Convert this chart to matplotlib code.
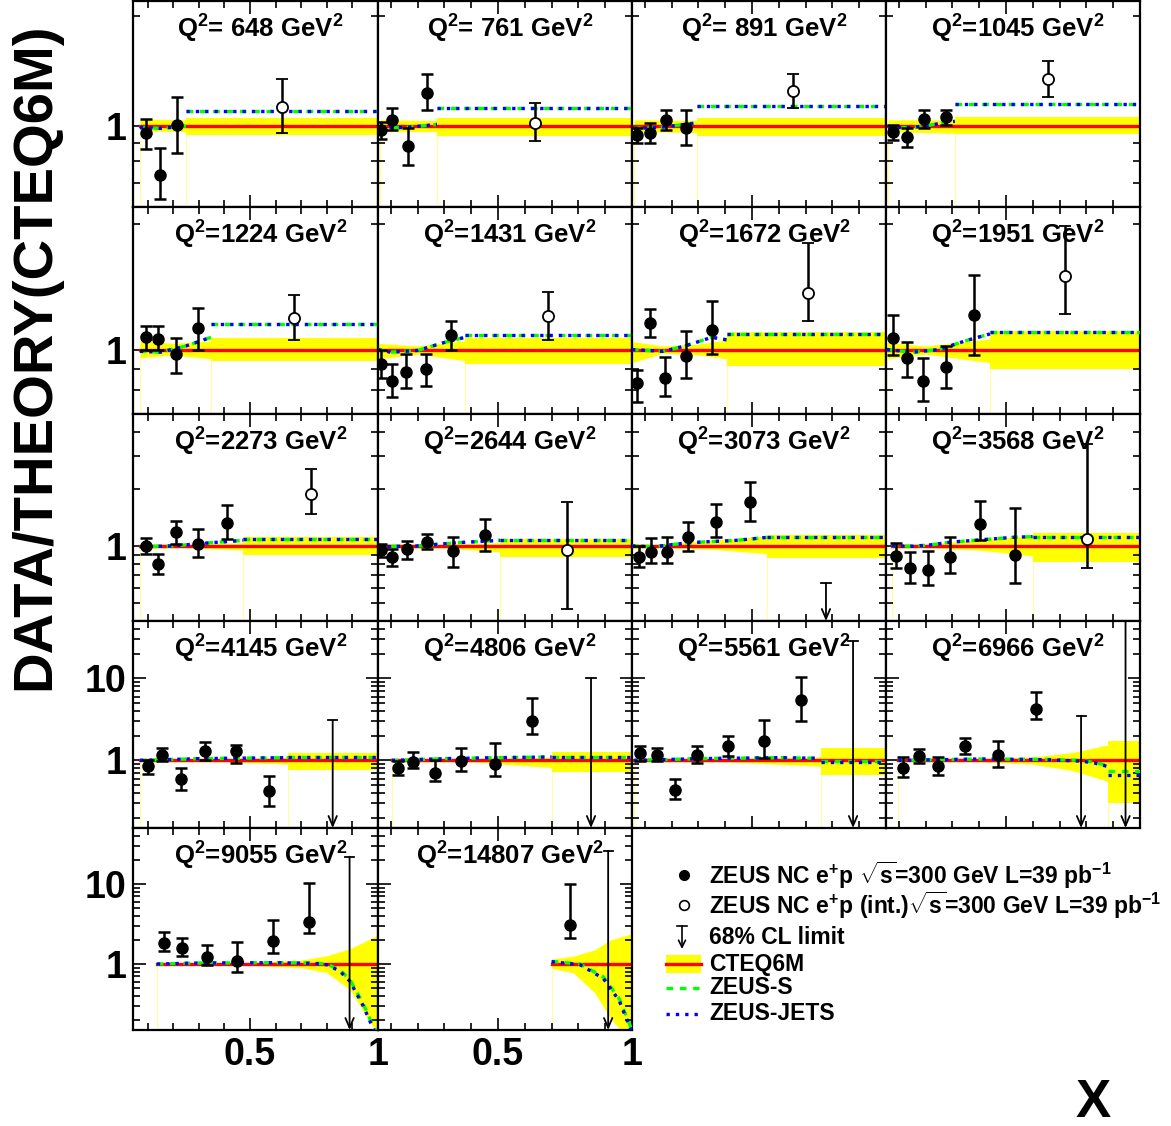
import numpy as np
import matplotlib.pyplot as plt
from matplotlib.ticker import FixedLocator, FixedFormatter, NullFormatter

plt.rcParams['font.family'] = ['Liberation Sans', 'DejaVu Sans']
plt.rcParams['font.weight'] = 'bold'
plt.rcParams['mathtext.fontset'] = 'custom'
plt.rcParams['mathtext.rm'] = 'Liberation Sans:bold'
plt.rcParams['mathtext.it'] = 'Liberation Sans:bold'
plt.rcParams['mathtext.bf'] = 'Liberation Sans:bold'

# ---- data (ratio to CTEQ6M) ----
Q2 = [648, 761, 891, 1045, 1224, 1431, 1672, 1951, 2273, 2644,
      3073, 3568, 4145, 4806, 5561, 6966, 9055, 14807]

# start of the integrated high-x bin (None: no integrated bin)
x_cut = [0.25, 0.272, 0.295, 0.309, 0.348, 0.377, 0.406, 0.44, 0.473, 0.507,
         0.555, 0.599, 0.648, 0.70, 0.757, 0.881, None, None]

# CTEQ6M uncertainty band below x_cut
band_x = [[0.07, 0.25], [0.06, 0.272], [0.06, 0.295], [0.06, 0.309],
          [0.07, 0.2, 0.348], [0.052, 0.2, 0.377], [0.052, 0.168, 0.3, 0.406],
          [0.055, 0.2, 0.44], [0.07, 0.25, 0.473], [0.052, 0.3, 0.507],
          [0.052, 0.15, 0.35, 0.555], [0.073, 0.2, 0.4, 0.599],
          [0.07, 0.4, 0.648], [0.103, 0.4, 0.70], [0.06, 0.4, 0.757],
          [0.098, 0.4, 0.6, 0.75, 0.881], [0.136, 0.5, 0.7, 0.8, 0.89, 1.0],
          [0.70, 0.78, 0.86, 0.92, 1.0]]
band_up = [[1.045, 1.04], [1.04, 1.035], [1.04, 1.035], [1.04, 1.04],
           [1.05, 1.035, 1.05], [1.035, 1.02, 1.05], [1.045, 1.02, 1.03, 1.055],
           [1.04, 1.02, 1.06], [1.03, 1.02, 1.04], [1.03, 1.02, 1.04],
           [1.03, 1.02, 1.07, 1.13], [1.03, 1.02, 1.08, 1.13],
           [1.04, 1.04, 1.08], [1.04, 1.05, 1.08], [1.04, 1.05, 1.1],
           [1.04, 1.05, 1.1, 1.25, 1.55], [1.03, 1.04, 1.12, 1.27, 1.55, 2.3],
           [1.15, 1.25, 1.5, 2.0, 2.4]]
band_dn = [[0.97, 0.965], [0.965, 0.965], [0.965, 0.96], [0.965, 0.955],
           [0.955, 0.97, 0.95], [0.95, 0.975, 0.94], [0.93, 0.98, 0.97, 0.95],
           [0.95, 0.975, 0.93], [0.97, 0.98, 0.95], [0.97, 0.975, 0.93],
           [0.97, 0.98, 0.96, 0.91], [0.97, 0.98, 0.95, 0.885],
           [0.96, 0.96, 0.9], [0.96, 0.96, 0.82], [0.96, 0.96, 0.85],
           [0.96, 0.96, 0.9, 0.75, 0.555], [0.97, 0.96, 0.9, 0.78, 0.48, 0.13],
           [0.88, 0.78, 0.44, 0.21, 0.1]]
# CTEQ6M uncertainty in the integrated bin
box_up = [1.055, 1.05, 1.05, 1.06, 1.066, 1.066, 1.10, 1.11, 1.116, 1.089,
          1.144, 1.17, 1.217, 1.276, 1.40, 1.70, None, None]
box_dn = [0.943, 0.94, 0.94, 0.95, 0.938, 0.924, 0.914, 0.90, 0.896, 0.874,
          0.86, 0.82, 0.755, 0.73, 0.66, 0.30, None, None]

# ZEUS-S and ZEUS-JETS predictions
curve_x = [[0.07, 0.15, 0.25], [0.06, 0.15, 0.272], [0.06, 0.15, 0.295],
           [0.06, 0.15, 0.309], [0.07, 0.15, 0.25, 0.348],
           [0.052, 0.1, 0.2, 0.3, 0.377], [0.052, 0.168, 0.25, 0.35, 0.406],
           [0.055, 0.15, 0.25, 0.35, 0.44], [0.07, 0.2, 0.35, 0.473],
           [0.052, 0.2, 0.35, 0.507],
           [0.052, 0.132, 0.256, 0.343, 0.43, 0.53, 0.555],
           [0.073, 0.154, 0.216, 0.291, 0.403, 0.527, 0.599],
           [0.07, 0.3, 0.648], [0.103, 0.3, 0.5, 0.70], [0.06, 0.3, 0.6, 0.757],
           [0.098, 0.4, 0.65, 0.78, 0.83, 0.881],
           [0.136, 0.3, 0.6, 0.75, 0.8, 0.85, 0.89, 0.94, 0.98, 1.0],
           [0.70, 0.806, 0.893, 0.952, 1.0]]
zs = [[0.99, 0.985, 1.0], [0.99, 0.99, 1.01], [0.985, 0.99, 1.02],
      [0.99, 0.99, 1.03], [0.99, 0.985, 1.02, 1.07],
      [1.0, 0.985, 0.995, 1.04, 1.07], [1.0, 0.99, 1.02, 1.07, 1.055],
      [1.0, 0.985, 1.0, 1.05, 1.09], [0.99, 1.0, 1.04, 1.07],
      [0.99, 1.0, 1.04, 1.07],
      [1.0, 0.99, 1.037, 1.054, 1.067, 1.10, 1.11],
      [1.0, 0.996, 1.012, 1.046, 1.076, 1.11, 1.12],
      [1.0, 1.05, 1.08], [1.0, 1.05, 1.08, 1.1], [1.0, 1.05, 1.08, 1.06],
      [1.0, 1.04, 1.03, 1.0, 0.95, 0.86],
      [1.0, 1.03, 1.04, 1.03, 1.0, 0.85, 0.64, 0.33, 0.17, 0.13],
      [1.08, 1.0, 0.69, 0.37, 0.15]]
zj = [[0.99, 0.985, 1.0], [0.99, 0.99, 1.01], [0.985, 0.99, 1.02],
      [0.99, 0.99, 1.03], [0.99, 0.985, 1.02, 1.07],
      [1.0, 0.985, 0.995, 1.04, 1.07], [1.0, 0.99, 1.02, 1.07, 1.055],
      [1.0, 0.985, 1.0, 1.05, 1.09], [0.99, 1.0, 1.04, 1.07],
      [0.99, 1.0, 1.04, 1.07],
      [1.0, 0.99, 1.037, 1.054, 1.067, 1.10, 1.11],
      [1.0, 0.996, 1.012, 1.046, 1.076, 1.11, 1.12],
      [1.0, 1.05, 1.08], [1.0, 1.05, 1.08, 1.1], [1.0, 1.05, 1.08, 1.06],
      [1.0, 1.04, 1.02, 0.98, 0.93, 0.84],
      [1.0, 1.03, 1.04, 1.02, 0.98, 0.82, 0.61, 0.31, 0.16, 0.12],
      [1.07, 0.98, 0.66, 0.35, 0.14]]
box_zs = [1.096, 1.117, 1.137, 1.15, 1.154, 1.083, 1.092, 1.10, 1.089, 1.076,
          1.12, 1.12, 1.09, 1.11, 0.97, 0.75, None, None]
box_zj = [1.096, 1.117, 1.137, 1.15, 1.154, 1.083, 1.092, 1.10, 1.089, 1.076,
          1.12, 1.12, 1.09, 1.11, 0.96, 0.66, None, None]

# ZEUS NC e+p data
dat_x = [[0.092, 0.150, 0.216], [0.063, 0.104, 0.164, 0.235],
         [0.071, 0.119, 0.179, 0.253], [0.078, 0.130, 0.194, 0.276],
         [0.092, 0.142, 0.212, 0.298], [0.063, 0.104, 0.156, 0.231, 0.324],
         [0.071, 0.119, 0.175, 0.253, 0.35], [0.078, 0.130, 0.190, 0.276, 0.381],
         [0.092, 0.142, 0.212, 0.298, 0.411],
         [0.063, 0.104, 0.160, 0.235, 0.332, 0.451],
         [0.079, 0.123, 0.184, 0.262, 0.364, 0.492],
         [0.089, 0.142, 0.21, 0.291, 0.403, 0.533],
         [0.103, 0.158, 0.232, 0.325, 0.446, 0.574],
         [0.126, 0.181, 0.265, 0.362, 0.490, 0.628],
         [0.082, 0.145, 0.212, 0.295, 0.410, 0.545, 0.683],
         [0.114, 0.175, 0.247, 0.347, 0.469, 0.612],
         [0.163, 0.234, 0.331, 0.45, 0.59, 0.729], [0.768]]
dat_y = [[0.954, 0.733, 1.004], [0.973, 1.037, 0.882, 1.231],
         [0.943, 0.955, 1.036, 0.985], [0.961, 0.931, 1.042, 1.056],
         [1.071, 1.06, 0.974, 1.124], [0.924, 0.839, 0.885, 0.899, 1.083],
         [0.831, 1.157, 0.853, 0.965, 1.112], [1.066, 0.955, 0.84, 0.909, 1.21],
         [1.0, 0.803, 1.186, 1.025, 1.324],
         [0.952, 0.874, 0.964, 1.05, 0.941, 1.144],
         [0.871, 0.933, 0.933, 1.11, 1.335, 1.70],
         [0.889, 0.761, 0.749, 0.871, 1.31, 0.896],
         [0.845, 1.15, 0.587, 1.32, 1.29, 0.42],
         [0.80, 0.946, 0.708, 0.98, 0.90, 3.03],
         [1.22, 1.15, 0.44, 1.18, 1.48, 1.72, 5.5],
         [0.81, 1.12, 0.845, 1.48, 1.15, 4.26],
         [1.85, 1.57, 1.21, 1.10, 1.95, 3.36], [3.05]]
dat_hi = [[1.042, 0.868, 1.204], [1.024, 1.117, 0.987, 1.387],
          [0.985, 1.016, 1.103, 1.103], [1.004, 0.985, 1.103, 1.103],
          [1.142, 1.142, 1.066, 1.256], [1.0, 0.924, 0.974, 0.974, 1.172],
          [0.895, 1.254, 0.957, 1.106, 1.31], [1.21, 1.04, 0.955, 1.02, 1.51],
          [1.102, 0.907, 1.356, 1.23, 1.65],
          [1.025, 0.964, 1.063, 1.158, 1.116, 1.39],
          [1.0, 1.098, 1.11, 1.345, 1.67, 2.18],
          [1.033, 0.933, 0.944, 1.12, 1.72, 1.59],
          [1.0, 1.4, 0.8, 1.66, 1.56, 0.64],
          [0.98, 1.25, 1.0, 1.40, 1.64, 5.8],
          [1.48, 1.4, 0.6, 1.48, 1.96, 3.07, 10.5],
          [1.11, 1.37, 1.11, 1.87, 1.72, 6.8],
          [2.49, 2.09, 1.73, 1.86, 3.58, 10.3], [9.9]]
dat_lo = [[0.863, 0.631, 0.842], [0.923, 0.973, 0.78, 1.103],
          [0.897, 0.897, 0.973, 0.885], [0.914, 0.874, 0.985, 1.004],
          [1.0, 1.0, 0.876, 1.0], [0.853, 0.767, 0.809, 0.818, 1.0],
          [0.747, 1.07, 0.772, 0.856, 0.974], [0.97, 0.86, 0.754, 0.81, 0.97],
          [0.907, 0.711, 1.025, 0.874, 1.089],
          [0.874, 0.783, 0.853, 0.964, 0.774, 0.941],
          [0.77, 0.81, 0.81, 0.944, 1.11, 1.36],
          [0.76, 0.637, 0.62, 0.72, 1.08, 0.634],
          [0.69, 0.97, 0.43, 1.0, 0.92, 0.28],
          [0.66, 0.80, 0.56, 0.74, 0.65, 2.07],
          [0.97, 0.97, 0.34, 0.92, 1.12, 1.06, 3.0],
          [0.63, 0.92, 0.67, 1.19, 0.82, 3.2],
          [1.46, 1.27, 0.97, 0.80, 1.36, 2.43], [2.13]]

# integrated-bin data (open circles)
int_x = [[0.625], [0.638], [0.653], [0.656], [0.671], [0.686], [0.709], [0.72],
         [0.738], [0.757], [], [0.801], [], [], [], [], [], []]
int_y = [[1.124], [1.017], [1.251], [1.348], [1.191], [1.204], [1.37], [1.50],
         [1.886], [0.952], [], [1.094], [], [], [], [], [], []]
int_hi = [[1.348], [1.153], [1.391], [1.51], [1.353], [1.375], [1.80], [1.98],
          [2.56], [1.71], [], [3.45], [], [], [], [], [], []]
int_lo = [[0.954], [0.912], [1.117], [1.197], [1.054], [1.054], [1.17], [1.22],
          [1.477], [0.463], [], [0.76], [], [], [], [], [], []]

# 68% CL upper limits
lim_x = [[], [], [], [], [], [], [], [], [], [], [0.776], [], [0.823], [0.847],
         [0.877], [0.78, 0.946], [0.889], [0.911]]
lim_top = [[], [], [], [], [], [], [], [], [], [], [0.634], [], [3.07], [10.0],
           [28.2], [3.5, 60.0], [21.9], [26.0]]

# ---- layout (pixels) ----
W, H = 1171, 1126
col_l = [133, 378, 632, 886]
col_r = [378, 632, 886, 1140]
row_t = [1, 207, 414, 621, 828]
row_b = [207, 414, 621, 828, 1030]
row_ylim = [(0.6, 2.2), (0.7, 2.2), (0.4, 5.0), (0.15, 50.0), (0.15, 50.0)]
col_xlim = [(0.043, 1.0), (0.052, 1.0), (0.052, 1.0), (0.052, 1.0)]

YEL = '#ffff00'
RED = '#ff0000'
GRN = '#00ff00'
BLU = '#0000ff'

fig = plt.figure(figsize=(W / 100, H / 100), dpi=100)

for i, q in enumerate(Q2):
    r, c = divmod(i, 4)
    ax = fig.add_axes([col_l[c] / W, 1 - row_b[r] / H,
                       (col_r[c] - col_l[c]) / W, (row_b[r] - row_t[r]) / H])
    ax.set_yscale('log')
    x0, x1 = col_xlim[c]
    y0, y1 = row_ylim[r]
    ax.set_xlim(x0, x1)
    ax.set_ylim(y0, y1)

    bx = band_x[i]
    ax.fill_between(bx, band_dn[i], band_up[i], color=YEL, lw=0, zorder=1)
    ax.plot([bx[0], bx[0]], [y0, band_dn[i][0]], color='#ffffa0', lw=0.8, zorder=1)
    if x_cut[i] is not None:
        ax.fill_between([x_cut[i], 1.0], box_dn[i], box_up[i], color=YEL, lw=0, zorder=1)
        ax.plot([x_cut[i], x_cut[i]], [y0, box_dn[i]], color='#ffffa0', lw=0.8, zorder=1)
    ax.plot([bx[0], 1.0], [1, 1], color=RED, lw=2.4, zorder=2)

    ax.plot(curve_x[i], zs[i], color=GRN, lw=2.4, dashes=(2, 2), zorder=3)
    ax.plot(curve_x[i], zj[i], color=BLU, lw=2.4, dashes=(1, 1.8), zorder=4)
    if x_cut[i] is not None:
        ax.plot([x_cut[i], 1.0], [box_zs[i]] * 2, color=GRN, lw=2.4, dashes=(2, 2), zorder=3)
        ax.plot([x_cut[i], 1.0], [box_zj[i]] * 2, color=BLU, lw=2.4, dashes=(1, 1.8), zorder=4)

    dy = np.array(dat_y[i])
    ax.errorbar(dat_x[i], dy, yerr=[dy - np.array(dat_lo[i]), np.array(dat_hi[i]) - dy],
                fmt='o', color='k', ms=8, elinewidth=1.8, capsize=4, capthick=1.8, zorder=6)
    if int_x[i]:
        iy = np.array(int_y[i])
        ax.errorbar(int_x[i], iy, yerr=[iy - np.array(int_lo[i]), np.array(int_hi[i]) - iy],
                    fmt='o', color='k', mfc='white', mec='k', mew=1.3, ms=8,
                    elinewidth=1.8, capsize=4, capthick=1.8, zorder=6)
    for lx, lt in zip(lim_x[i], lim_top[i]):
        top = min(lt, y1)
        ax.annotate('', xy=(lx, y0), xytext=(lx, top),
                    arrowprops=dict(arrowstyle='->,head_length=0.7,head_width=0.3',
                                    lw=1.3, color='k', shrinkA=0, shrinkB=0), zorder=6)
        if lt < y1:
            ax.plot([lx - 0.017, lx + 0.017], [lt, lt], color='k', lw=1.3, zorder=6)

    if q < 1000:
        title = r'Q$^{2}$= %d GeV$^{2}$' % q
    else:
        title = r'Q$^{2}$=%d GeV$^{2}$' % q
    h = row_b[r] - row_t[r]
    ax.text(0.52, 1 - 37 / h, title, transform=ax.transAxes, ha='center',
            va='baseline', fontsize=18.5, fontweight='bold', zorder=7)

    # ticks
    ax.xaxis.set_major_locator(FixedLocator([0.5, 1.0]))
    ax.xaxis.set_major_formatter(FixedFormatter(['0.5', '1']))
    ax.xaxis.set_minor_locator(FixedLocator([0.1, 0.2, 0.3, 0.4, 0.6, 0.7, 0.8, 0.9]))
    if r < 3:
        ax.yaxis.set_major_locator(FixedLocator([1.0]))
        ax.yaxis.set_major_formatter(FixedFormatter(['1']))
        ax.yaxis.set_minor_locator(FixedLocator([0.4, 0.5, 0.6, 0.7, 0.8, 0.9, 2, 3, 4, 5]))
    else:
        ax.yaxis.set_major_locator(FixedLocator([1.0, 10.0]))
        ax.yaxis.set_major_formatter(FixedFormatter(['1', '10']))
        ax.yaxis.set_minor_locator(FixedLocator([0.2, 0.3, 0.4, 0.5, 0.6, 0.7, 0.8, 0.9,
                                                 2, 3, 4, 5, 6, 7, 8, 9, 20, 30, 40, 50]))
    ax.yaxis.set_minor_formatter(NullFormatter())
    ax.tick_params(which='both', direction='in', top=True, right=True, width=1.2,
                   labelsize=27, labelleft=(c == 0), labelbottom=(r == 4))
    ax.tick_params(which='major', length=9, pad=5)
    ax.tick_params(which='minor', length=5)
    for s in ax.spines.values():
        s.set_linewidth(1.6)

# legend drawn in pixel coordinates
lax = fig.add_axes([640 / W, 1 - 1030 / H, (W - 640) / W, (1030 - 860) / H])
lax.set_xlim(640, W)
lax.set_ylim(1030, 860)
lax.axis('off')
leg_y = [875, 905, 937, 964, 988, 1014]
leg_text = [r'ZEUS NC e$^{+}$p $\sqrt{s}$=300 GeV L=39 pb$^{-1}$',
            r'ZEUS NC e$^{+}$p (int.)$\sqrt{s}$=300 GeV L=39 pb$^{-1}$',
            '68% CL limit', 'CTEQ6M', 'ZEUS-S', 'ZEUS-JETS']
lax.plot(684, leg_y[0], 'o', color='k', ms=7)
lax.plot(684, leg_y[1], 'o', color='k', mfc='white', mew=1.2, ms=7)
lax.annotate('', xy=(682, leg_y[2] + 12), xytext=(682, leg_y[2] - 11),
             arrowprops=dict(arrowstyle='->,head_length=0.5,head_width=0.25',
                             lw=1.2, color='k', shrinkA=0, shrinkB=0))
lax.plot([677, 687], [leg_y[2] - 11] * 2, color='k', lw=1.2)
lax.fill_between([666, 701], leg_y[3] - 9, leg_y[3] + 9, color=YEL, lw=0)
lax.plot([666, 701], [leg_y[3]] * 2, color=RED, lw=2.4)
lax.plot([666, 699], [leg_y[4]] * 2, color=GRN, lw=2.4, dashes=(2, 2))
lax.plot([666, 699], [leg_y[5]] * 2, color=BLU, lw=2.4, dashes=(1, 1.8))
for yy, t in zip(leg_y, leg_text):
    lax.text(709, yy, t, ha='left', va='center', fontsize=16.5, fontweight='bold')

fig.text(35 / W, 1 - 356 / H, 'DATA/THEORY(CTEQ6M)', rotation=90, ha='center',
         va='center', fontsize=40.5, fontweight='bold')
fig.text(1093 / W, 1 - 1103 / H, 'X', ha='center', va='center', fontsize=38,
         fontweight='bold')

fig.savefig('out.png', dpi=100)
